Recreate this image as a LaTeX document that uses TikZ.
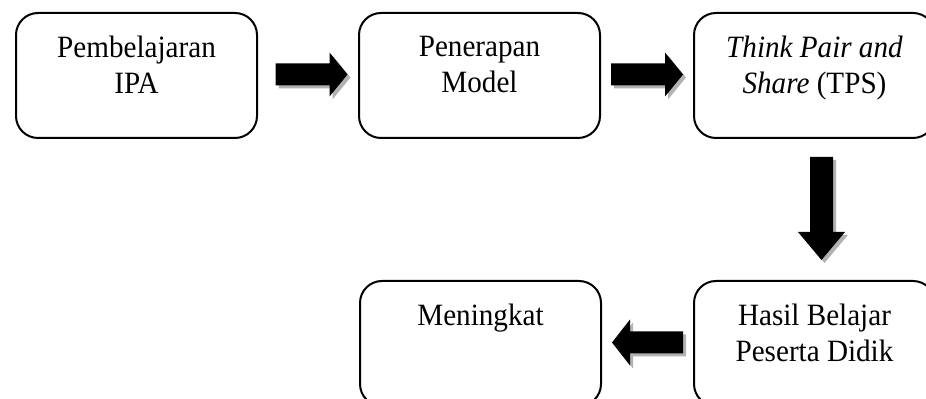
\documentclass[tikz,border=0pt]{standalone}
\usepackage{fontspec}
\setmainfont[FakeStretch=0.94]{Liberation Serif}
\usetikzlibrary{positioning, calc}

\tikzset{
  pics/panah/.style n args={4}{code={
    \fill (-#1/2,-#2) -- ({#1/2-#4},-#2) -- ({#1/2-#4},-#3) -- (#1/2,0)
      -- ({#1/2-#4},#3) -- ({#1/2-#4},#2) -- (-#1/2,#2) -- cycle;
  }}
}

\begin{document}
\begin{tikzpicture}[
    x=0.5pt, y=-0.5pt,
    kotak/.style={draw, rectangle, rounded corners=11pt, line width=1pt, minimum width=120.5pt, minimum height=62.5pt, inner sep=0pt},
    teks/.style={align=center, inner sep=0pt, font=\fontsize{15.5pt}{18pt}\selectfont},
    bayang/.style={fill=black!30}
  ]
  \useasboundingbox (0,0) rectangle (926,399);

  \node[kotak, anchor=north west] (b1) at (15,12) {};
  \node[kotak, right=50pt of b1] (b2) {};
  \node[kotak, right=46pt of b2] (b3) {};
  \node[kotak, below=70.5pt of b3] (b5) {};
  \node[kotak, left=45.5pt of b5] (b4) {};

  \node[teks, below=11.8pt of b1.north] (t1) {Pembelajaran\\IPA};
  \node[teks, below=11.8pt of b2.north] (t2) {Penerapan\\Model};
  \node[teks, below=11.8pt of b3.north] (t3) {\textit{Think Pair and}\\\textit{Share} (TPS)};
  \node[teks, below=11.8pt of b4.north] (t4) {Meningkat};
  \node[teks, below=11.8pt of b5.north] (t5) {Hasil Belajar\\Peserta Didik};

  % titik tengah panah
  \coordinate (m1) at ($(b1.east)!0.5!(b2.west)+(3.5,-1)$);
  \coordinate (m2) at ($(b2.east)!0.5!(b3.west)+(0,-1)$);
  \coordinate (m3) at ($(b3.south)!0.5!(b5.north)+(7,-1)$);
  \coordinate (m4) at ($(b4.east)!0.5!(b5.west)+(0,-1)$);

  \pic[bayang] at ($(m1)+(3,3)$) {panah={72}{11}{22}{18}};
  \pic at (m1) {panah={72}{11}{22}{18}};
  \pic[bayang] at ($(m2)+(3,3)$) {panah={72}{11}{22}{18}};
  \pic at (m2) {panah={72}{11}{22}{18}};
  \pic[bayang, rotate=-90] at ($(m3)+(3,3)$) {panah={103}{11.5}{23.5}{28}};
  \pic[rotate=-90] at (m3) {panah={103}{11.5}{23.5}{28}};
  \pic[bayang, rotate=180] at ($(m4)+(3,3)$) {panah={71}{11}{23}{18}};
  \pic[rotate=180] at (m4) {panah={71}{11}{23}{18}};
\end{tikzpicture}
\end{document}
